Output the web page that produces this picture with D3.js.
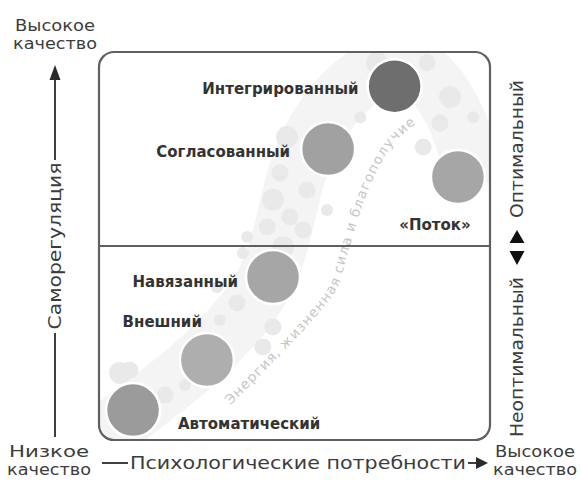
<!DOCTYPE html>
<html>
<head>
<meta charset="utf-8">
<script src="https://cdn.jsdelivr.net/npm/d3@7"></script>
<style>
  body { margin: 0; background: #fff; }
  text { font-family: "DejaVu Sans", sans-serif; }
</style>
</head>
<body>
<div id="chart"></div>
<script>
// stages of motivation on the two axes (0..100 on both)
var stages = ["Автоматический", "Внешний", "Навязанный", "Согласованный", "Интегрированный", "«Поток»"];
var needs = [8.7, 27.6, 44.5, 58.6, 75.6, 91.8];        // psychological needs (x)
var regulation = [7.7, 20.6, 42.0, 75.0, 91.2, 67.8];  // self-regulation (y)

// the light "energy" band behind the circles
var bandX = [2.8, 13, 24.6, 36, 42.5, 46.3, 48.8, 51.4, 56.5, 64.2, 73.1, 82, 88.5, 92.8, 94.9];
var bandY = [2.6, 10.3, 19.3, 30.9, 39.9, 50.3, 61.9, 72.2, 82.5, 91.5, 97.4, 96.6, 88.9, 79.9, 72.2];
var blobX = [48.1, 46.3, 53.2, 44.5, 48.8, 58.3, 43.0, 37.9, 52.2, 47.1, 36.8, 44.5, 41.9, 30.9, 35.3, 30.2, 71.1, 83.9, 89.8, 87.2, 95.7, 82.9, 66.8, 5.4, 7.9, 16.9, 22.0];
var blobY = [78.1, 68.8, 64.4, 61.9, 57.5, 59.3, 54.9, 52.3, 54.1, 49.7, 48.2, 29.1, 24.0, 30.9, 35.3, 39.4, 97.2, 97.2, 88.4, 81.7, 83.2, 75.5, 83.2, 17.3, 18.0, 11.6, 14.2];
var blobSize = [3, 2, 2, 3, 2, 1, 2, 1, 2, 3, 1, 2, 2, 1, 2, 1, 3, 2, 3, 2, 1, 2, 1, 3, 2, 2, 1];
var arcX = [33.5, 43.7, 53.5, 60.9, 63.4, 66.5, 70.3, 75.4, 81.6];
var arcY = [8.8, 19.3, 29.6, 39.2, 47.4, 57.7, 67.8, 76.5, 81.9];

var bandLabel = "Энергия, жизненная сила и благополучие";
var xTitle = "Психологические потребности";
var yTitle = "Саморегуляция";
var lowLabel = ["Низкое", "качество"];
var highLabel = ["Высокое", "качество"];
var zoneLabels = ["Оптимальный", "Неоптимальный"];

var svgWidth = 582;
var svgHeight = 483;

var svg = d3.select("#chart")
  .append("svg")
  .attr("width", svgWidth)
  .attr("height", svgHeight);

var xScale = d3.scaleLinear().domain([0, 100]).range([99, 490]);
var yScale = d3.scaleLinear().domain([0, 100]).range([440, 52]);
var blobR = d3.scaleLinear().domain([1, 3]).range([6, 11]);

var shade = d3.scaleOrdinal()
  .domain(stages)
  .range(["#9b9b9b", "#aeaeae", "#a6a6a6", "#a1a1a1", "#6e6e6e", "#a6a6a6"]);

var points = stages.map(function(s, i) {
  return { name: s, x: needs[i], y: regulation[i] };
});

// clip for the band so it stays inside the frame
svg.append("clipPath").attr("id", "frameClip")
  .append("rect")
  .attr("x", xScale(0)).attr("y", yScale(100))
  .attr("width", xScale(100) - xScale(0))
  .attr("height", yScale(0) - yScale(100))
  .attr("rx", 15);

var bandGroup = svg.append("g").attr("clip-path", "url(#frameClip)");

var line = d3.line()
  .x(function(d) { return xScale(d[0]); })
  .y(function(d) { return yScale(d[1]); })
  .curve(d3.curveBasis);

bandGroup.append("path")
  .datum(d3.zip(bandX, bandY))
  .attr("d", line)
  .attr("fill", "none")
  .attr("stroke", "#f4f4f4")
  .attr("stroke-width", 58)
  .attr("stroke-linecap", "round");

bandGroup.selectAll("circle.blob")
  .data(d3.zip(blobX, blobY, blobSize))
  .enter()
  .append("circle")
  .attr("class", "blob")
  .attr("cx", d => xScale(d[0]))
  .attr("cy", d => yScale(d[1]))
  .attr("r", d => blobR(d[2]))
  .attr("fill", "#e9e9e9");

// curved caption along the band, one glyph at a time
var arcLine = d3.line()
  .x(function(d) { return xScale(d[0]); })
  .y(function(d) { return yScale(d[1]); })
  .curve(d3.curveCatmullRom);

var arcPath = svg.append("path")
  .datum(d3.zip(arcX, arcY))
  .attr("d", arcLine)
  .attr("fill", "none");
var arcNode = arcPath.node();
var arcLen = arcNode.getTotalLength();

var chars = Array.from(bandLabel);
var probe = svg.append("text").attr("font-size", 13.5);
var widths = chars.map(function(c) {
  probe.text(c === " " ? "\u00a0" : c);
  return probe.node().getComputedTextLength();
});
probe.remove();
var stretch = (arcLen - 2) / d3.sum(widths);

var glyphs = [];
var run = 0;
chars.forEach(function(c, i) {
  var mid = (run + widths[i] / 2) * stretch;
  run += widths[i];
  var p = arcNode.getPointAtLength(mid);
  var a = arcNode.getPointAtLength(Math.max(0, mid - 1));
  var b = arcNode.getPointAtLength(Math.min(arcLen, mid + 1));
  var angle = Math.atan2(b.y - a.y, b.x - a.x) * 180 / Math.PI;
  glyphs.push({ c: c, x: p.x, y: p.y, angle: angle });
});

svg.append("g").selectAll("text")
  .data(glyphs.filter(g => g.c !== " "))
  .enter()
  .append("text")
  .attr("transform", g => "translate(" + g.x + "," + g.y + ") rotate(" + g.angle + ")")
  .attr("text-anchor", "middle")
  .attr("font-size", 13.5)
  .attr("fill", "#c6c6c6")
  .text(g => g.c);

// frame and divider
svg.append("rect")
  .attr("x", xScale(0)).attr("y", yScale(100))
  .attr("width", xScale(100) - xScale(0))
  .attr("height", yScale(0) - yScale(100))
  .attr("rx", 15)
  .attr("fill", "none")
  .attr("stroke", "#606060")
  .attr("stroke-width", 2.2);

svg.append("line")
  .attr("x1", xScale(0)).attr("x2", xScale(100))
  .attr("y1", yScale(50)).attr("y2", yScale(50))
  .attr("stroke", "#606060")
  .attr("stroke-width", 2.2);

// stage circles
svg.selectAll("circle.stage")
  .data(points)
  .enter()
  .append("circle")
  .attr("class", "stage")
  .attr("cx", d => xScale(d.x))
  .attr("cy", d => yScale(d.y))
  .attr("r", 27)
  .attr("fill", d => shade(d.name))
  .attr("stroke", "#fff")
  .attr("stroke-width", 2.5);

// label placement relative to each circle
var labelPos = {
  "Автоматический": { dx: 45, dy: 13, anchor: "start" },
  "Внешний": { dx: -5, dy: -38, anchor: "end" },
  "Навязанный": { dx: -35, dy: 5, anchor: "end" },
  "Согласованный": { dx: -38, dy: 3, anchor: "end" },
  "Интегрированный": { dx: -36, dy: 2, anchor: "end" },
  "«Поток»": { dx: -23, dy: 48, anchor: "middle" }
};

svg.selectAll("text.stage")
  .data(points)
  .enter()
  .append("text")
  .attr("class", "stage")
  .attr("x", d => xScale(d.x) + labelPos[d.name].dx)
  .attr("y", d => yScale(d.y) + labelPos[d.name].dy)
  .attr("dy", "0.36em")
  .attr("text-anchor", d => labelPos[d.name].anchor)
  .attr("font-size", 15)
  .attr("font-weight", "bold")
  .attr("fill", "#333")
  .text(d => d.name);

// axes
var ink = "#2a2a2a";
var axisText = "#3c3c3c";

// left axis: self-regulation
var ax = 55;
svg.append("line").attr("x1", ax).attr("x2", ax).attr("y1", 437).attr("y2", 333)
  .attr("stroke", ink).attr("stroke-width", 1.8);
svg.append("line").attr("x1", ax).attr("x2", ax).attr("y1", 160).attr("y2", 78)
  .attr("stroke", ink).attr("stroke-width", 1.8);
svg.append("polygon").attr("points", "55,65 49.5,80 60.5,80").attr("fill", ink);
svg.append("text")
  .attr("transform", "translate(" + ax + ",246) rotate(-90)")
  .attr("text-anchor", "middle").attr("dy", "0.36em")
  .attr("font-size", 18).attr("fill", axisText)
  .attr("textLength", 167).attr("lengthAdjust", "spacingAndGlyphs")
  .text(yTitle);

// bottom axis: psychological needs
var ay = 463;
svg.append("line").attr("x1", 102).attr("x2", 128).attr("y1", ay).attr("y2", ay)
  .attr("stroke", ink).attr("stroke-width", 1.8);
svg.append("line").attr("x1", 468).attr("x2", 479).attr("y1", ay).attr("y2", ay)
  .attr("stroke", ink).attr("stroke-width", 1.8);
svg.append("polygon").attr("points", "488," + ay + " 476," + (ay - 6) + " 476," + (ay + 6)).attr("fill", ink);
svg.append("text")
  .attr("x", 130).attr("y", ay).attr("dy", "0.36em")
  .attr("font-size", 18).attr("fill", axisText)
  .attr("textLength", 336).attr("lengthAdjust", "spacingAndGlyphs")
  .text(xTitle);

// two-line end labels: each line its own text so they stack cleanly
function twoLines(lines, cx, y0) {
  lines.forEach(function(s, i) {
    svg.append("text")
      .attr("x", cx).attr("y", y0 + i * 18)
      .attr("text-anchor", "middle")
      .attr("font-size", 15.5).attr("fill", axisText)
      .attr("textLength", i === 0 ? 80 : 84)
      .attr("lengthAdjust", "spacingAndGlyphs")
      .text(s);
  });
}
twoLines(highLabel, 55, 31);
twoLines(lowLabel, 49, 457);
twoLines(highLabel, 535, 457);

// right side: optimal / non-optimal
var rx = 517;
svg.append("text")
  .attr("transform", "translate(" + rx + ",149) rotate(-90)")
  .attr("text-anchor", "middle").attr("dy", "0.36em")
  .attr("font-size", 18).attr("fill", axisText)
  .attr("textLength", 138).attr("lengthAdjust", "spacingAndGlyphs")
  .text(zoneLabels[0]);
svg.append("text")
  .attr("transform", "translate(" + rx + ",357) rotate(-90)")
  .attr("text-anchor", "middle").attr("dy", "0.36em")
  .attr("font-size", 18).attr("fill", axisText)
  .attr("textLength", 160).attr("lengthAdjust", "spacingAndGlyphs")
  .text(zoneLabels[1]);
svg.append("polygon").attr("points", rx + ",230 " + (rx - 7.5) + ",243 " + (rx + 7.5) + ",243").attr("fill", "#111");
svg.append("polygon").attr("points", rx + ",265 " + (rx - 7.5) + ",251 " + (rx + 7.5) + ",251").attr("fill", "#111");
</script>
</body>
</html>
